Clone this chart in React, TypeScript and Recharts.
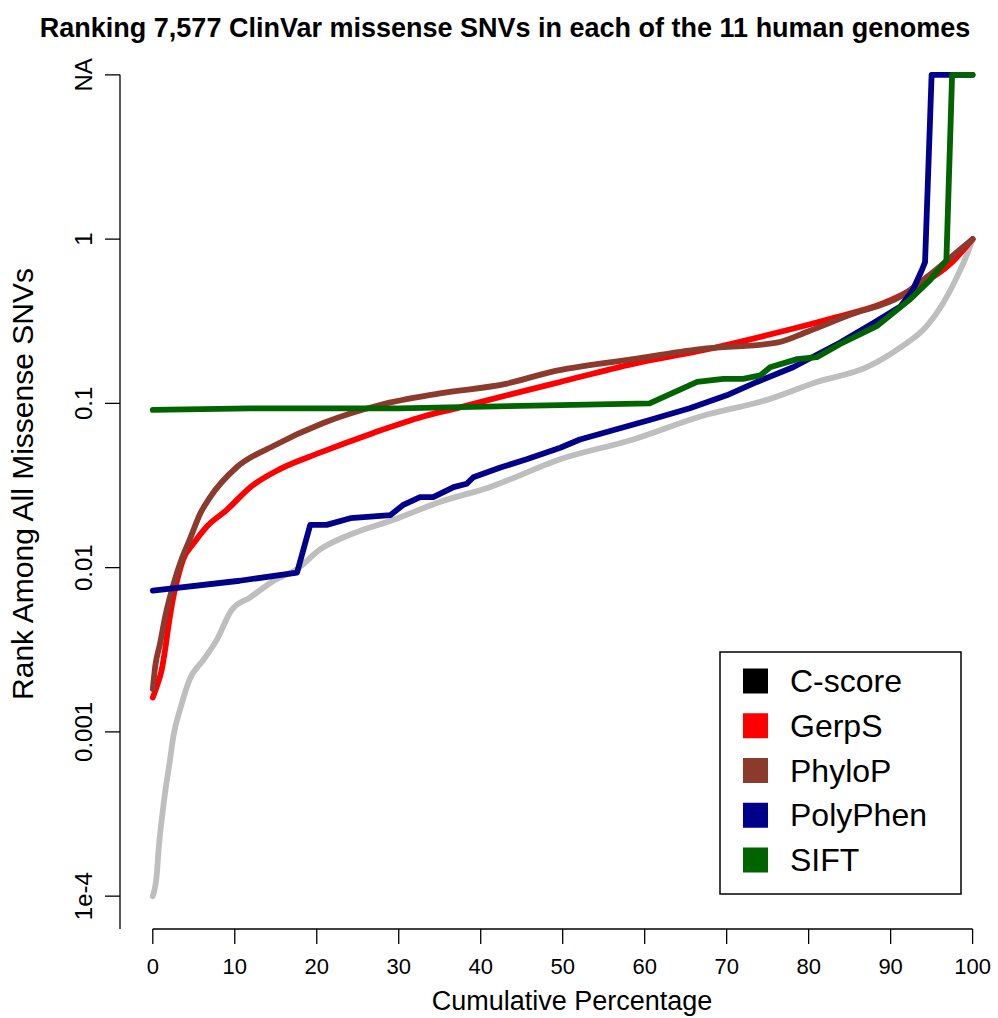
import { LineChart, Line, XAxis, YAxis, ReferenceLine } from "recharts";

// Cumulative percentage of variants (x) and rank among all missense SNVs (y).
// A null rank means the tool gave no score (plotted on the NA row).
const cscorePct = [0, 0.5, 0.7, 1.1, 1.5, 2.1, 2.5, 3.4, 4.5, 6.2, 7.8, 9.6, 11.9, 14.7, 17.6, 20.4, 24.5, 29.3, 35.0, 41.1, 49.7, 58.6, 66.8, 74.9, 81.0, 87.1, 91.2, 94.4, 96.4, 98.1, 99.5, 100];
const cscoreRank = [0.0001, 0.000138, 0.00019, 0.000295, 0.000427, 0.000676, 0.000933, 0.00141, 0.00209, 0.00275, 0.00363, 0.0055, 0.0066, 0.0083, 0.0098, 0.0129, 0.0162, 0.0195, 0.0251, 0.0309, 0.0457, 0.0603, 0.0832, 0.105, 0.135, 0.166, 0.219, 0.295, 0.407, 0.589, 0.851, 1];

const gerpPct = [0, 0.5, 1.1, 1.5, 1.9, 2.5, 3.1, 3.7, 5.0, 6.6, 9.0, 11.9, 15.5, 20.4, 26.9, 33.0, 37.0, 43.2, 49.7, 58.6, 66.8, 76.1, 83.0, 89.1, 93.2, 97.3, 100];
const gerpRank = [0.00162, 0.0019, 0.0024, 0.00316, 0.00437, 0.0066, 0.0089, 0.0112, 0.0141, 0.0178, 0.0224, 0.0309, 0.0398, 0.0501, 0.0661, 0.0832, 0.0933, 0.112, 0.135, 0.174, 0.209, 0.269, 0.331, 0.407, 0.513, 0.708, 1];

const phylopPct = [0, 0.3, 0.9, 1.5, 2.7, 3.5, 4.5, 5.8, 7.0, 10.2, 14.7, 20.8, 27.7, 35.0, 43.2, 48.5, 58.6, 66.8, 76.1, 80.0, 85.1, 91.2, 95.2, 99.5, 100];
const phylopRank = [0.00182, 0.00251, 0.00347, 0.005, 0.0085, 0.0112, 0.0148, 0.0214, 0.0269, 0.0407, 0.055, 0.0759, 0.0977, 0.115, 0.132, 0.155, 0.186, 0.214, 0.234, 0.275, 0.347, 0.447, 0.631, 0.955, 1];

const polyphenPct = [0, 10.6, 17.6, 19.2, 21.2, 24.1, 29.0, 30.5, 32.6, 34.2, 36.7, 38.3, 39.1, 42.4, 45.6, 49.7, 52.1, 60.7, 65.5, 70.0, 73.7, 78.1, 83.8, 87.9, 91.2, 92.7, 93.8, 94.2, 95.0, 100];
const polyphenRank = [0.00724, 0.00832, 0.00933, 0.0182, 0.0182, 0.02, 0.0209, 0.024, 0.0269, 0.0269, 0.0309, 0.0324, 0.0355, 0.0407, 0.0457, 0.0537, 0.0603, 0.0794, 0.0933, 0.112, 0.135, 0.166, 0.234, 0.309, 0.389, 0.49, 0.646, 0.724, null, null];

const siftPct = [0, 12, 30, 49.7, 60.6, 66.4, 69.6, 72.0, 74.1, 75.3, 78.6, 81.0, 83.8, 88.3, 92.3, 94.8, 96.8, 97.5, 100];
const siftRank = [0.0912, 0.0933, 0.0933, 0.0977, 0.1, 0.135, 0.141, 0.141, 0.148, 0.166, 0.186, 0.191, 0.229, 0.295, 0.427, 0.562, 0.741, null, null];

const pctTicks = [0, 10, 20, 30, 40, 50, 60, 70, 80, 90, 100];
const rankTickLabels = ["1e-4", "0.001", "0.01", "0.1", "1", "NA"];

// log10 positions; NA sits one decade above rank 1
const NA_POS = 1;
const rankTickPos = [-4, -3, -2, -1, 0, NA_POS];

const FONT = "'Liberation Sans', Arial, Helvetica, sans-serif";

const toRows = (pct: number[], rank: (number | null)[]) =>
  pct.map((p, i) => ({
    pct: p,
    pos: rank[i] === null ? NA_POS : Math.log10(rank[i] as number),
  }));

// smooth curves for the dense score rankings, straight segments for the stepped ones
const series = [
  { name: "C-score", color: "#bebebe", key: "#000000", curve: "monotoneX", rows: toRows(cscorePct, cscoreRank) },
  { name: "GerpS", color: "#ff0000", key: "#ff0000", curve: "monotoneX", rows: toRows(gerpPct, gerpRank) },
  { name: "PhyloP", color: "#8b3a2b", key: "#8b3a2b", curve: "monotoneX", rows: toRows(phylopPct, phylopRank) },
  { name: "PolyPhen", color: "#00008b", key: "#00008b", curve: "linear", rows: toRows(polyphenPct, polyphenRank) },
  { name: "SIFT", color: "#006400", key: "#006400", curve: "linear", rows: toRows(siftPct, siftRank) },
];

function XTick(props: any) {
  const { x, y, payload } = props;
  return (
    <text x={x} y={y + 28} textAnchor="middle" fontSize={22} fontFamily={FONT} fill="#000">
      {payload.value}
    </text>
  );
}

function YTick(props: any) {
  const { x, y, payload } = props;
  const i = rankTickPos.indexOf(payload.value);
  const tx = x - 11;
  return (
    <text
      x={tx}
      y={y}
      transform={`rotate(-90, ${tx}, ${y})`}
      textAnchor="middle"
      fontSize={24}
      fontFamily={FONT}
      fill="#000"
    >
      {rankTickLabels[i]}
    </text>
  );
}

export default function App() {
  return (
    <div style={{ position: "absolute", left: 0, top: 0, width: 998, height: 1018, background: "#fff" }}>
      <LineChart width={998} height={1018} margin={{ top: 42, right: 9, bottom: 0, left: 0 }}>
        <XAxis
          type="number"
          dataKey="pct"
          domain={[-4, 102]}
          allowDataOverflow
          ticks={pctTicks}
          interval={0}
          height={89}
          axisLine={false}
          tickSize={15}
          tickLine={{ stroke: "#000", strokeWidth: 1.3 }}
          tick={<XTick />}
        />
        <YAxis
          type="number"
          domain={[-4.2, 1.2]}
          allowDataOverflow
          ticks={rankTickPos}
          interval={0}
          width={120}
          axisLine={false}
          tickSize={15}
          tickLine={{ stroke: "#000", strokeWidth: 1.3 }}
          tick={<YTick />}
        />
        <ReferenceLine
          segment={[{ x: 0, y: -4.2 }, { x: 100, y: -4.2 }]}
          stroke="#000"
          strokeWidth={1.3}
          ifOverflow="visible"
        />
        <ReferenceLine
          segment={[{ x: -4, y: -4.2 }, { x: -4, y: NA_POS }]}
          stroke="#000"
          strokeWidth={1.3}
          ifOverflow="visible"
        />
        {series.map((s) => (
          <Line
            key={s.name}
            data={s.rows}
            dataKey="pos"
            type={s.curve as any}
            stroke={s.color}
            strokeWidth={5.8}
            strokeLinecap="round"
            strokeLinejoin="round"
            dot={false}
            activeDot={false}
            isAnimationActive={false}
          />
        ))}
      </LineChart>

      <svg
        width={998}
        height={1018}
        style={{ position: "absolute", left: 0, top: 0, pointerEvents: "none" }}
      >
        <text x={505} y={37} textAnchor="middle" fontSize={27} fontWeight="bold" fontFamily={FONT}>
          Ranking 7,577 ClinVar missense SNVs in each of the 11 human genomes
        </text>
        <text x={572} y={1010} textAnchor="middle" fontSize={27} fontFamily={FONT}>
          Cumulative Percentage
        </text>
        <text
          x={33}
          y={484}
          transform="rotate(-90, 33, 484)"
          textAnchor="middle"
          fontSize={30}
          fontFamily={FONT}
        >
          Rank Among All Missense SNVs
        </text>

        <rect x={720} y={652} width={241} height={242} fill="#fff" stroke="#000" strokeWidth={1.5} />
        {series.map((s, i) => {
          const cy = 681 + i * 44.75;
          return (
            <g key={s.name}>
              <rect x={743} y={cy - 12.5} width={25} height={25} fill={s.key} />
              <text x={790} y={cy + 11} fontSize={32} fontFamily={FONT}>
                {s.name}
              </text>
            </g>
          );
        })}
      </svg>
    </div>
  );
}
